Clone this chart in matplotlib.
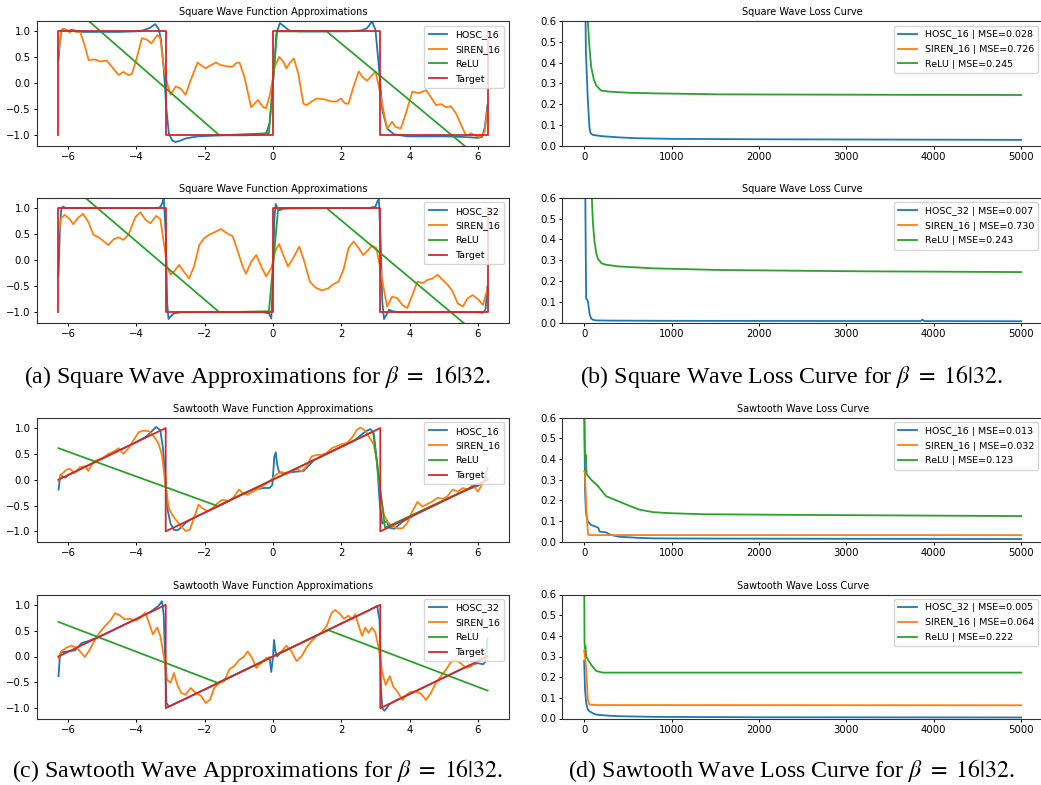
import numpy as np
import matplotlib
matplotlib.use("Agg")
import matplotlib.pyplot as plt

PI = np.pi

# ---------------- Data: square wave approximations ----------------
sq_target_x = [-2*PI, -2*PI, -PI, -PI, 0, 0, PI, PI, 2*PI, 2*PI]
sq_target_y = [-1, 1, 1, -1, -1, 1, 1, -1, -1, 1]

sq16_hosc_x = [-6.28, -6.24, -6.2, -6.15, -6.08, -6.0, -5.9, -5.8, -5.6, -5.0, -4.5, -4.0, -3.8, -3.6,
               -3.45, -3.35, -3.28, -3.2, -3.12, -3.05, -2.95, -2.85, -2.7, -2.56, -2.2, -1.5, -0.8, -0.4,
               -0.2, -0.1, 0.0, 0.1, 0.2, 0.34, 0.49, 0.8, 1.5, 2.2, 2.6, 2.75, 2.9, 3.0, 3.1, 3.2, 3.34,
               3.54, 3.93, 4.5, 5.0, 5.5, 5.8, 6.0, 6.12, 6.2, 6.28]
sq16_hosc_y = [0.45, 0.8, 0.98, 1.05, 1.03, 1.01, 1.03, 1.0, 0.99, 0.99, 0.99, 1.0, 1.02, 1.07,
               1.14, 1.05, 0.85, 0.3, -0.5, -0.96, -1.1, -1.13, -1.1, -1.06, -1.02, -1.0, -1.0, -0.99,
               -0.96, -0.77, 0.0, 0.96, 1.16, 1.09, 1.01, 1.0, 1.0, 1.0, 1.02, 1.06, 1.19, 1.03, 0.32, -0.51, -0.87,
               -0.98, -1.02, -1.02, -1.02, -1.03, -1.04, -1.05, -1.03, -0.85, -0.42]

sq16_siren_x = [-6.28, -6.2, -6.1, -5.95, -5.85, -5.75, -5.65, -5.5, -5.4, -5.2, -5.07, -4.87, -4.72, -4.52,
                -4.38, -4.23, -4.13, -3.98, -3.84, -3.69, -3.56, -3.39, -3.3, -3.2, -3.1, -3.0, -2.85, -2.7,
                -2.56, -2.41, -2.21, -2.11, -1.97, -1.82, -1.67, -1.52, -1.28, -1.18, -1.08, -0.98, -0.84,
                -0.64, -0.54, -0.44, -0.3, -0.2, -0.08, 0.05, 0.18, 0.3, 0.39, 0.49, 0.61, 0.74, 0.89, 0.98,
                1.13, 1.28, 1.52, 1.72, 1.87, 1.99, 2.11, 2.21, 2.36, 2.51, 2.61, 2.75, 2.87, 3.0, 3.1, 3.23,
                3.34, 3.49, 3.59, 3.74, 3.89, 4.08, 4.28, 4.48, 4.62, 4.77, 4.92, 5.07, 5.21, 5.36, 5.51,
                5.66, 5.8, 5.9, 6.05, 6.2, 6.28]
sq16_siren_y = [0.58, 1.03, 1.05, 0.98, 1.04, 0.99, 1.0, 0.7, 0.45, 0.46, 0.42, 0.44, 0.32, 0.16,
                0.22, 0.16, 0.18, 0.51, 0.87, 0.84, 0.77, 0.93, 0.87, 0.32, 0.0, -0.22, -0.06, -0.1,
                -0.22, 0.06, 0.4, 0.35, 0.29, 0.35, 0.4, 0.35, 0.32, 0.32, 0.39, 0.4, 0.13,
                -0.46, -0.39, -0.32, -0.45, -0.48, -0.19, 0.32, 0.51, 0.42, 0.29, 0.39, 0.48, 0.19, -0.39, -0.42,
                -0.35, -0.29, -0.31, -0.35, -0.35, -0.29, -0.39, -0.39, -0.06, 0.23, 0.13, 0.05, 0.13, 0.23, -0.06, -0.51,
                -0.87, -0.74, -0.84, -0.87, -0.58, -0.16, -0.19, -0.13, -0.26, -0.42, -0.4, -0.46, -0.44, -0.58, -0.8,
                -1.02, -0.96, -1.0, -1.03, -0.93, -0.51]

sq16_relu_x = [-2*PI, -1.57, -0.12, 0.12, 1.57, 2*PI]
sq16_relu_y = [1.71, -1.0, -0.96, 1.0, 1.0, -1.57]

sq32_hosc_x = [-6.28, -6.24, -6.2, -6.15, -6.1, -6.0, -5.5, -4.0, -3.4, -3.3, -3.24, -3.2, -3.14, -3.1,
               -3.06, -3.0, -2.9, -2.7, -2.0, -1.0, -0.3, -0.12, -0.05, 0.0, 0.04, 0.08, 0.14, 0.2, 0.3,
               0.5, 1.5, 2.8, 3.0, 3.05, 3.1, 3.15, 3.2, 3.25, 3.32, 3.4, 3.5, 3.7, 5.0, 6.0, 6.15, 6.22, 6.28]
sq32_hosc_y = [-0.3, 0.6, 0.98, 1.03, 1.01, 1.0, 1.0, 1.0, 1.0, 1.02, 1.1, 1.19, 0.5, -0.8,
               -1.13, -1.08, -1.02, -1.0, -1.0, -1.0, -1.0, -1.02, -1.12, -0.3, 0.8, 1.08, 0.98, 0.96, 0.99,
               1.0, 1.0, 1.0, 1.03, 1.12, 1.18, 0.4, -0.8, -1.13, -1.05, -0.95, -0.98, -1.0, -1.0, -1.0, -1.01, -0.95, -0.5]

sq32_siren_x = [-6.28, -6.2, -6.1, -5.95, -5.85, -5.7, -5.56, -5.41, -5.26, -5.11, -4.97, -4.82, -4.67,
                -4.52, -4.38, -4.23, -4.03, -3.88, -3.74, -3.59, -3.42, -3.3, -3.18, -3.1, -3.0, -2.9, -2.75,
                -2.61, -2.46, -2.31, -2.16, -2.02, -1.87, -1.67, -1.52, -1.38, -1.18, -1.03, -0.89, -0.79,
                -0.64, -0.49, -0.34, -0.2, -0.05, 0.08, 0.18, 0.3, 0.44, 0.59, 0.77, 0.9, 1.08, 1.23, 1.43,
                1.62, 1.77, 1.92, 2.07, 2.21, 2.36, 2.51, 2.64, 2.75, 2.9, 3.03, 3.13, 3.25, 3.34, 3.49, 3.64,
                3.79, 3.93, 4.08, 4.23, 4.38, 4.52, 4.67, 4.82, 4.97, 5.11, 5.26, 5.41, 5.56, 5.7, 5.85, 6.02,
                6.15, 6.28]
sq32_siren_y = [0.52, 0.81, 0.87, 0.79, 0.69, 0.82, 0.89, 0.74, 0.49, 0.44, 0.37, 0.29, 0.4,
                0.44, 0.39, 0.49, 0.83, 0.92, 0.78, 0.71, 0.85, 0.79, 0.26, -0.12, -0.28, -0.22, -0.09,
                -0.22, -0.35, -0.12, 0.29, 0.42, 0.49, 0.55, 0.6, 0.53, 0.46, 0.17, -0.12, -0.26,
                -0.03, 0.1, -0.13, -0.31, -0.15, 0.2, 0.31, 0.1, -0.12, 0.04, 0.26, 0.01, -0.41, -0.52, -0.58,
                -0.54, -0.46, -0.41, -0.17, 0.23, 0.36, 0.23, 0.1, 0.17, 0.28, 0.23, -0.12, -0.57, -0.89, -0.7, -0.73,
                -0.86, -0.92, -0.67, -0.41, -0.44, -0.38, -0.35, -0.28, -0.38, -0.47, -0.6, -0.83, -0.89, -0.73, -0.67, -0.76,
                -0.86, -0.54]

sq32_relu_x = [-2*PI, -1.57, -0.12, 0.15, 1.57, 2*PI]
sq32_relu_y = [1.64, -1.0, -0.98, 0.99, 1.0, -1.59]

# ---------------- Data: sawtooth approximations ----------------
st_target_x = [-2*PI, -PI, -PI, PI, PI, 2*PI]
st_target_y = [0, 1, -1, 1, -1, 0]

st16_hosc_x = [-6.28, -6.22, -6.15, -6.08, -6.0, -5.5, -5.0, -4.5, -4.0, -3.7, -3.5, -3.42, -3.3, -3.22,
               -3.15, -3.08, -3.0, -2.9, -2.8, -2.7, -2.55, -2.3, -2.0, -1.5, -1.0, -0.6, -0.25, -0.1, -0.02,
               0.04, 0.08, 0.12, 0.18, 0.3, 0.6, 0.9, 1.2, 1.6, 2.0, 2.4, 2.7, 2.85, 2.95, 3.05, 3.12, 3.2,
               3.27, 3.33, 3.4, 3.55, 3.8, 4.2, 4.8, 5.3, 5.7, 6.0, 6.15, 6.22, 6.28]
st16_hosc_y = [-0.19, 0.1, 0.05, 0.04, 0.09, 0.25, 0.41, 0.57, 0.73, 0.84, 0.97, 1.02, 0.96, 0.6,
               0.0, -0.6, -0.85, -0.97, -0.98, -0.93, -0.83, -0.73, -0.64, -0.48, -0.31, -0.19, -0.16, -0.16, -0.1,
               0.45, 0.53, 0.3, 0.14, 0.13, 0.15, 0.17, 0.38, 0.51, 0.64, 0.77, 0.93, 0.98, 0.9, 0.3, -0.4, -0.85,
               -0.82, -0.8, -0.93, -0.95, -0.81, -0.66, -0.47, -0.31, -0.19, -0.12, -0.06, 0.05, 0.23]

st16_siren_x = [-6.28, -6.2, -6.05, -5.95, -5.8, -5.66, -5.51, -5.41, -5.26, -5.11, -4.97, -4.82, -4.67,
                -4.52, -4.38, -4.23, -4.08, -3.93, -3.79, -3.64, -3.49, -3.36, -3.25, -3.15, -3.05, -2.95,
                -2.85, -2.7, -2.56, -2.44, -2.31, -2.18, -2.07, -1.92, -1.77, -1.62, -1.48, -1.28, -1.13,
                -1.0, -0.89, -0.74, -0.59, -0.39, -0.2, -0.05, 0.1, 0.25, 0.39, 0.54, 0.69, 0.84, 0.98, 1.13,
                1.28, 1.43, 1.57, 1.72, 1.87, 2.02, 2.16, 2.31, 2.46, 2.56, 2.7, 2.83, 2.95, 3.05, 3.15, 3.25,
                3.36, 3.49, 3.64, 3.79, 3.93, 4.08, 4.23, 4.38, 4.52, 4.67, 4.82, 4.97, 5.11, 5.26, 5.41, 5.56,
                5.7, 5.85, 6.0, 6.15, 6.28]
st16_siren_y = [-0.03, 0.1, 0.19, 0.21, 0.13, 0.24, 0.26, 0.17, 0.35, 0.39, 0.43, 0.5, 0.54,
                0.61, 0.5, 0.61, 0.77, 0.92, 0.95, 0.94, 0.84, 0.71, 0.48, -0.1, -0.55, -0.68,
                -0.77, -0.9, -0.99, -0.97, -0.74, -0.48, -0.55, -0.61, -0.55, -0.45, -0.39, -0.41, -0.32,
                -0.19, -0.26, -0.29, -0.23, -0.16, -0.08, 0.0, 0.1, 0.15, 0.11, 0.16, 0.21, 0.16, 0.26, 0.45,
                0.48, 0.48, 0.52, 0.61, 0.65, 0.69, 0.71, 0.81, 0.97, 1.01, 0.95, 0.81, 0.68, 0.35, -0.29, -0.68,
                -0.82, -0.9, -0.94, -0.94, -0.84, -0.61, -0.43, -0.52, -0.47, -0.42, -0.35, -0.37, -0.32, -0.19, -0.23, -0.16,
                -0.19, -0.1, -0.23, -0.06, 0.06]

st16_relu_x = [-2*PI, -1.62, 2.93, 3.28, 2*PI]
st16_relu_y = [0.61, -0.51, 0.93, -0.93, 0.0]

st32_hosc_x = [-6.28, -6.24, -6.2, -6.1, -6.0, -5.8, -5.6, -5.4, -5.0, -4.5, -4.0, -3.6, -3.35, -3.25,
               -3.2, -3.16, -3.12, -3.05, -2.9, -2.5, -2.0, -1.0, -0.5, -0.2, -0.1, -0.05, 0.0, 0.03, 0.07,
               0.12, 0.2, 0.3, 0.5, 1.0, 2.0, 2.8, 3.05, 3.12, 3.16, 3.2, 3.26, 3.33, 3.4, 3.6, 4.0, 5.0,
               5.5, 5.8, 6.0, 6.15, 6.22, 6.28]
st32_hosc_y = [-0.38, 0.02, 0.08, 0.09, 0.1, 0.12, 0.26, 0.3, 0.41, 0.57, 0.73, 0.86, 0.98, 1.07,
               0.8, 0.0, -0.9, -0.97, -0.92, -0.8, -0.64, -0.32, -0.16, -0.06, -0.02, -0.3, 0.0, 0.32, 0.1,
               0.0, 0.06, 0.1, 0.16, 0.32, 0.64, 0.89, 0.98, 0.7, -0.6, -1.0, -1.05, -1.0, -0.93, -0.85, -0.73, -0.41,
               -0.25, -0.16, -0.13, -0.15, -0.1, 0.35]

st32_siren_x = [-6.28, -6.2, -6.05, -5.9, -5.75, -5.61, -5.51, -5.36, -5.21, -5.07, -4.92, -4.77, -4.62,
                -4.47, -4.35, -4.18, -4.03, -3.88, -3.74, -3.64, -3.52, -3.39, -3.3, -3.2, -3.1, -3.0, -2.9,
                -2.8, -2.68, -2.56, -2.41, -2.26, -2.11, -1.97, -1.85, -1.72, -1.57, -1.43, -1.28, -1.13,
                -0.98, -0.86, -0.74, -0.61, -0.49, -0.34, -0.2, -0.05, 0.1, 0.25, 0.39, 0.54, 0.69, 0.84,
                0.98, 1.13, 1.28, 1.43, 1.57, 1.72, 1.82, 1.97, 2.07, 2.21, 2.31, 2.41, 2.51, 2.61, 2.7, 2.8,
                2.9, 3.0, 3.1, 3.2, 3.3, 3.42, 3.52, 3.64, 3.79, 3.91, 4.03, 4.18, 4.33, 4.48, 4.62, 4.77,
                4.92, 5.07, 5.21, 5.36, 5.51, 5.66, 5.8, 5.95, 6.1, 6.28]
st32_siren_y = [-0.03, 0.1, 0.17, 0.21, 0.17, 0.07, -0.01, 0.14, 0.33, 0.47, 0.59, 0.69, 0.84,
                0.79, 0.72, 0.73, 0.69, 0.75, 0.85, 0.67, 0.43, 0.56, 0.4, 0.01, -0.45, -0.51, -0.32,
                -0.55, -0.71, -0.74, -0.61, -0.71, -0.76, -0.9, -0.84, -0.61, -0.51, -0.48, -0.25, -0.18,
                -0.06, -0.01, 0.1, -0.03, -0.22, -0.12, -0.03, -0.01, 0.04, 0.1, 0.21, 0.1, -0.09, 0.01,
                0.17, 0.3, 0.4, 0.47, 0.59, 0.85, 0.9, 0.82, 0.73, 0.79, 0.72, 0.82, 0.59, 0.4, 0.56, 0.46,
                0.56, 0.46, 0.14, -0.32, -0.55, -0.38, -0.58, -0.68, -0.84, -0.74, -0.68, -0.68, -0.72, -0.84, -0.71, -0.51,
                -0.38, -0.25, -0.11, -0.06, -0.14, -0.22, -0.19, -0.09, -0.03, 0.02]

st32_relu_x = [-2*PI, -1.62, 1.62, 2*PI]
st32_relu_y = [0.67, -0.51, 0.51, -0.66]

# ---------------- Data: loss curves ----------------
l_sq16_hosc_e = [0, 20, 42, 60, 73, 100, 200, 400, 600, 1000, 2000, 3000, 4000, 5000]
l_sq16_hosc_v = [1.2, 0.45, 0.22, 0.09, 0.06, 0.052, 0.046, 0.04, 0.036, 0.033, 0.031, 0.03, 0.029, 0.028]
l_sq16_siren_e = [0, 100, 5000]
l_sq16_siren_v = [1.0, 0.75, 0.726]
l_sq16_relu_e = [0, 42, 60, 80, 110, 137, 195, 290, 500, 787, 1550, 2500, 3500, 5000]
l_sq16_relu_v = [1.0, 0.6, 0.48, 0.38, 0.32, 0.29, 0.265, 0.26, 0.255, 0.252, 0.247, 0.246, 0.245, 0.244]

l_sq32_hosc_e = [0, 15, 23, 35, 45, 61, 80, 100, 140, 300, 1000, 3000, 3850, 3870, 3890, 5000]
l_sq32_hosc_v = [1.5, 0.5, 0.116, 0.11, 0.1, 0.044, 0.02, 0.014, 0.011, 0.01, 0.009, 0.008, 0.008, 0.015, 0.008, 0.007]
l_sq32_siren_e = [0, 100, 5000]
l_sq32_siren_v = [1.0, 0.75, 0.730]
l_sq32_relu_e = [0, 88, 100, 118, 140, 160, 200, 250, 400, 787, 1550, 3080, 5000]
l_sq32_relu_v = [1.0, 0.6, 0.48, 0.39, 0.33, 0.305, 0.285, 0.278, 0.27, 0.261, 0.253, 0.247, 0.243]

l_st16_hosc_e = [0, 10, 20, 42, 80, 150, 165, 176, 252, 270, 310, 405, 600, 787, 1550, 3000, 5000]
l_st16_hosc_v = [0.7, 0.25, 0.14, 0.097, 0.081, 0.07, 0.065, 0.049, 0.045, 0.04, 0.032, 0.024, 0.019, 0.016, 0.015, 0.014, 0.013]
l_st16_siren_e = [0, 10, 25, 45, 60, 5000]
l_st16_siren_v = [0.34, 0.33, 0.15, 0.034, 0.032, 0.032]
l_st16_relu_e = [0, 8, 12, 20, 28, 40, 80, 157, 252, 367, 481, 634, 787, 978, 1360, 2315, 5000]
l_st16_relu_v = [0.75, 0.43, 0.4, 0.42, 0.33, 0.32, 0.3, 0.27, 0.22, 0.2, 0.18, 0.155, 0.143, 0.138, 0.133, 0.13, 0.124]

l_st32_hosc_e = [0, 10, 23, 40, 61, 100, 138, 252, 405, 800, 2000, 5000]
l_st32_hosc_v = [0.28, 0.14, 0.076, 0.045, 0.035, 0.025, 0.019, 0.0145, 0.011, 0.008, 0.006, 0.005]
l_st32_siren_e = [0, 15, 23, 42, 61, 138, 5000]
l_st32_siren_v = [0.33, 0.28, 0.24, 0.09, 0.068, 0.065, 0.064]
l_st32_relu_e = [0, 4, 8, 15, 23, 50, 80, 138, 214, 5000]
l_st32_relu_v = [0.8, 0.37, 0.34, 0.35, 0.3, 0.28, 0.26, 0.23, 0.222, 0.222]

mse_sq16 = ["0.028", "0.726", "0.245"]
mse_sq32 = ["0.007", "0.730", "0.243"]
mse_st16 = ["0.013", "0.032", "0.123"]
mse_st32 = ["0.005", "0.064", "0.222"]

captions = [r"(a) Square Wave Approximations for $\beta\ =\ 16|32$.",
            r"(b) Square Wave Loss Curve for $\beta\ =\ 16|32$.",
            r"(c) Sawtooth Wave Approximations for $\beta\ =\ 16|32$.",
            r"(d) Sawtooth Wave Loss Curve for $\beta\ =\ 16|32$."]

# ---------------- Figure ----------------
plt.rcParams['mathtext.fontset'] = 'stix'
W, H = 1041, 785
fig = plt.figure(figsize=(W/100, H/100), dpi=100)

C_BLUE, C_ORANGE, C_GREEN, C_RED = '#1f77b4', '#ff7f0e', '#2ca02c', '#d62728'
LW = 1.3
TICK_FS = 7.3
TITLE_FS = 7.0
LEG_FS = 6.8
LEG_KW = dict(loc='upper right', fontsize=LEG_FS, handlelength=2.0, labelspacing=0.62,
              borderpad=0.45, borderaxespad=0.5)


def px_axes(x0, y0, x1, y1):
    return fig.add_axes([x0/W, 1 - y1/H, (x1 - x0)/W, (y1 - y0)/H])


def style(ax):
    ax.tick_params(labelsize=TICK_FS, length=2.5, width=0.7, pad=2)
    for s in ax.spines.values():
        s.set_linewidth(0.8)
        s.set_color('#333333')


def approx_panel(ax, hx, hy, sx, sy, rx, ry, tx, ty, hname, title):
    ax.plot(hx, hy, color=C_BLUE, lw=LW, label=hname)
    ax.plot(sx, sy, color=C_ORANGE, lw=LW, label='SIREN_16')
    ax.plot(rx, ry, color=C_GREEN, lw=LW, label='ReLU')
    ax.plot(tx, ty, color=C_RED, lw=LW, label='Target')
    ax.set_xlim(-6.91, 6.91)
    ax.set_ylim(-1.2, 1.2)
    ax.set_xticks([-6, -4, -2, 0, 2, 4, 6])
    ax.set_yticks([-1.0, -0.5, 0.0, 0.5, 1.0])
    ax.set_title(title, fontsize=TITLE_FS, pad=4)
    ax.legend(**LEG_KW)
    style(ax)


def loss_panel(ax, he, hv, se, sv, re_, rv, hname, mses, title):
    ax.plot(he, hv, color=C_BLUE, lw=LW, label=f"{hname} | MSE={mses[0]}")
    ax.plot(se, sv, color=C_ORANGE, lw=LW, label=f"SIREN_16 | MSE={mses[1]}")
    ax.plot(re_, rv, color=C_GREEN, lw=LW, label=f"ReLU | MSE={mses[2]}")
    ax.set_xlim(-250, 5250)
    ax.set_ylim(0, 0.6)
    ax.set_xticks([0, 1000, 2000, 3000, 4000, 5000])
    ax.set_yticks([0.0, 0.1, 0.2, 0.3, 0.4, 0.5, 0.6])
    ax.set_title(title, fontsize=TITLE_FS, pad=4)
    ax.legend(**LEG_KW)
    style(ax)


rows = [(21, 145.7), (197.7, 322.7), (417.7, 541.7), (594.5, 718.5)]
LX0, LX1 = 37, 509
RX0, RX1 = 562.3, 1043

a1 = px_axes(LX0, rows[0][0], LX1, rows[0][1])
approx_panel(a1, sq16_hosc_x, sq16_hosc_y, sq16_siren_x, sq16_siren_y, sq16_relu_x, sq16_relu_y,
             sq_target_x, sq_target_y, 'HOSC_16', 'Square Wave Function Approximations')
a2 = px_axes(LX0, rows[1][0], LX1, rows[1][1])
approx_panel(a2, sq32_hosc_x, sq32_hosc_y, sq32_siren_x, sq32_siren_y, sq32_relu_x, sq32_relu_y,
             sq_target_x, sq_target_y, 'HOSC_32', 'Square Wave Function Approximations')
a3 = px_axes(LX0, rows[2][0], LX1, rows[2][1])
approx_panel(a3, st16_hosc_x, st16_hosc_y, st16_siren_x, st16_siren_y, st16_relu_x, st16_relu_y,
             st_target_x, st_target_y, 'HOSC_16', 'Sawtooth Wave Function Approximations')
a4 = px_axes(LX0, rows[3][0], LX1, rows[3][1])
approx_panel(a4, st32_hosc_x, st32_hosc_y, st32_siren_x, st32_siren_y, st32_relu_x, st32_relu_y,
             st_target_x, st_target_y, 'HOSC_32', 'Sawtooth Wave Function Approximations')

b1 = px_axes(RX0, rows[0][0], RX1, rows[0][1])
loss_panel(b1, l_sq16_hosc_e, l_sq16_hosc_v, l_sq16_siren_e, l_sq16_siren_v, l_sq16_relu_e, l_sq16_relu_v,
           'HOSC_16', mse_sq16, 'Square Wave Loss Curve')
b2 = px_axes(RX0, rows[1][0], RX1, rows[1][1])
loss_panel(b2, l_sq32_hosc_e, l_sq32_hosc_v, l_sq32_siren_e, l_sq32_siren_v, l_sq32_relu_e, l_sq32_relu_v,
           'HOSC_32', mse_sq32, 'Square Wave Loss Curve')
b3 = px_axes(RX0, rows[2][0], RX1, rows[2][1])
loss_panel(b3, l_st16_hosc_e, l_st16_hosc_v, l_st16_siren_e, l_st16_siren_v, l_st16_relu_e, l_st16_relu_v,
           'HOSC_16', mse_st16, 'Sawtooth Wave Loss Curve')
b4 = px_axes(RX0, rows[3][0], RX1, rows[3][1])
loss_panel(b4, l_st32_hosc_e, l_st32_hosc_v, l_st32_siren_e, l_st32_siren_v, l_st32_relu_e, l_st32_relu_v,
           'HOSC_32', mse_st32, 'Sawtooth Wave Loss Curve')

cap_kw = dict(fontsize=17.2, family='Liberation Serif', ha='center', va='center')
fig.text(258/W, 1 - 376/H, captions[0], **cap_kw)
fig.text(791/W, 1 - 376/H, captions[1], **cap_kw)
fig.text(258/W, 1 - 770/H, captions[2], **cap_kw)
fig.text(791/W, 1 - 770/H, captions[3], **cap_kw)

fig.savefig('out.png', dpi=100)
